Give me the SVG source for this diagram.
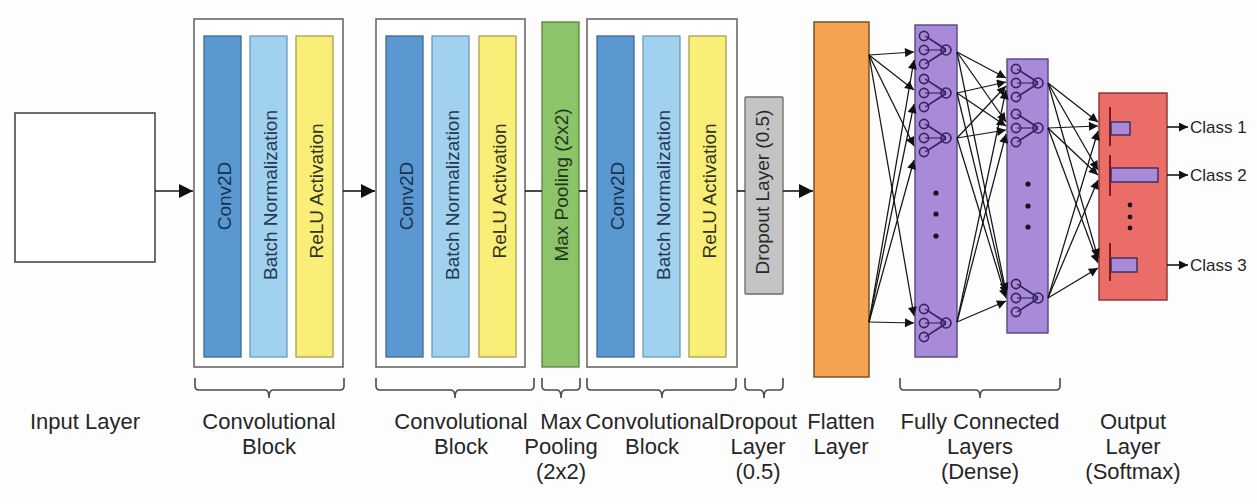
<svg xmlns="http://www.w3.org/2000/svg" width="1257" height="504" viewBox="0 0 1257 504">
  <defs>
    <style>
      .lbl { font-family: "Liberation Sans", Arial, sans-serif; font-size: 22px; fill: #262626; text-anchor: middle; }
      .vt { font-family: "Liberation Sans", Arial, sans-serif; font-size: 19px; text-anchor: middle; }
      .cls { font-family: "Liberation Sans", Arial, sans-serif; font-size: 17px; fill: #262626; }
      .frame { fill: #fff; stroke: #6a6a6a; stroke-width: 1.6; }
      .conv { fill: #5a98d2; stroke: #3c6a96; stroke-width: 1.3; }
      .bn { fill: #a0d1ef; stroke: #6a9aba; stroke-width: 1.3; }
      .relu { fill: #f9ee78; stroke: #a8a04c; stroke-width: 1.3; }
      .pool { fill: #8cc46a; stroke: #56853c; stroke-width: 1.3; }
      .drop { fill: #c4c4c4; stroke: #6a6a6a; stroke-width: 1.3; }
      .flat { fill: #f4a350; stroke: #6e4a20; stroke-width: 1.4; }
      .dense { fill: #a88ad8; stroke: #564680; stroke-width: 1.4; }
      .out { fill: #ea6d68; stroke: #843232; stroke-width: 1.4; }
      .nrn circle { fill: none; stroke: #35245f; stroke-width: 1.6; }
      .nrn line { stroke: #35245f; stroke-width: 1.1; }
      .dot { fill: #161616; }
      .brace { fill: none; stroke: #4a4a4a; stroke-width: 1.6; }
      .flow { stroke: #1a1a1a; stroke-width: 1.6; fill: none; }
      .edge { stroke: #141414; stroke-width: 1.25; fill: none; marker-end: url(#ahs); }
    </style>
    <marker id="ah" viewBox="0 0 10 10" refX="10" refY="5" markerWidth="16" markerHeight="14" markerUnits="userSpaceOnUse" orient="auto">
      <path d="M0,0 L10,5 L0,10 z" fill="#111"/>
    </marker>
    <marker id="ahs" viewBox="0 0 10 10" refX="10" refY="5" markerWidth="12" markerHeight="9" markerUnits="userSpaceOnUse" orient="auto">
      <path d="M0,0 L10,5 L0,10 z" fill="#111"/>
    </marker>
    <!-- neuron icon: three inputs fanning into one unit -->
    <g id="neuron" class="nrn">
      <line x1="-10" y1="-14" x2="11" y2="0"/>
      <line x1="-8" y1="-13" x2="11" y2="-1"/>
      <line x1="-10" y1="0" x2="11" y2="0"/>
      <line x1="-10" y1="14" x2="11" y2="0"/>
      <line x1="-8" y1="13" x2="11" y2="1"/>
      <circle cx="-11" cy="-14" r="4.6"/>
      <circle cx="-11" cy="0" r="4.6"/>
      <circle cx="-11" cy="14" r="4.6"/>
      <circle cx="11" cy="0" r="5"/>
    </g>
  </defs>

  <rect x="0" y="0" width="1257" height="504" fill="#fdfdfd"/>

  <!-- input -->
  <g id="input-layer">
    <rect x="15" y="113" width="140" height="149" fill="#fff" stroke="#4a4a4a" stroke-width="1.6"/>
  </g>

  <!-- convolutional block 1 -->
  <g id="conv-block-1">
    <rect class="frame" x="194" y="19" width="149" height="348"/>
    <rect class="conv" x="204" y="36" width="37" height="321"/>
    <rect class="bn" x="250" y="36" width="37" height="321"/>
    <rect class="relu" x="296" y="36" width="37" height="321"/>
    <text class="vt" fill="#1a3050" transform="translate(231,196) rotate(-90)">Conv2D</text>
    <text class="vt" fill="#253850" transform="translate(277,195) rotate(-90)">Batch Normalization</text>
    <text class="vt" fill="#333322" transform="translate(323,191) rotate(-90)">ReLU Activation</text>
  </g>

  <!-- convolutional block 2 -->
  <g id="conv-block-2">
    <rect class="frame" x="376" y="19" width="149" height="348"/>
    <rect class="conv" x="386" y="36" width="37" height="321"/>
    <rect class="bn" x="432" y="36" width="37" height="321"/>
    <rect class="relu" x="479" y="36" width="37" height="321"/>
    <text class="vt" fill="#1a3050" transform="translate(413,196) rotate(-90)">Conv2D</text>
    <text class="vt" fill="#253850" transform="translate(459,195) rotate(-90)">Batch Normalization</text>
    <text class="vt" fill="#333322" transform="translate(506,191) rotate(-90)">ReLU Activation</text>
  </g>

  <!-- max pooling -->
  <g id="max-pooling">
    <rect class="pool" x="542" y="22" width="37" height="345"/>
    <text class="vt" fill="#24341c" transform="translate(568,185) rotate(-90)">Max Pooling (2x2)</text>
  </g>

  <!-- convolutional block 3 -->
  <g id="conv-block-3">
    <rect class="frame" x="587" y="19" width="150" height="348"/>
    <rect class="conv" x="597" y="36" width="37" height="321"/>
    <rect class="bn" x="643" y="36" width="37" height="321"/>
    <rect class="relu" x="689" y="36" width="37" height="321"/>
    <text class="vt" fill="#1a3050" transform="translate(624,196) rotate(-90)">Conv2D</text>
    <text class="vt" fill="#253850" transform="translate(670,195) rotate(-90)">Batch Normalization</text>
    <text class="vt" fill="#333322" transform="translate(716,191) rotate(-90)">ReLU Activation</text>
  </g>

  <!-- dropout -->
  <g id="dropout">
    <rect class="drop" x="745" y="97" width="38" height="197" rx="1"/>
    <text class="vt" fill="#2a2a2a" transform="translate(769,192) rotate(-90)">Dropout Layer (0.5)</text>
  </g>

  <!-- flatten -->
  <g id="flatten">
    <rect class="flat" x="814" y="22" width="55" height="355"/>
  </g>

  <!-- dense layer 1 -->
  <g id="dense-1">
    <rect class="dense" x="915" y="25" width="42" height="332"/>
    <use href="#neuron" x="935" y="50"/>
    <use href="#neuron" x="935" y="93"/>
    <use href="#neuron" x="935" y="138"/>
    <use href="#neuron" x="935" y="323"/>
    <circle class="dot" cx="936" cy="193" r="2.6"/>
    <circle class="dot" cx="936" cy="214" r="2.6"/>
    <circle class="dot" cx="936" cy="236" r="2.6"/>
  </g>

  <!-- dense layer 2 -->
  <g id="dense-2">
    <rect class="dense" x="1007" y="59" width="41" height="274"/>
    <use href="#neuron" x="1027" y="83"/>
    <use href="#neuron" x="1027" y="128"/>
    <use href="#neuron" x="1027" y="298"/>
    <circle class="dot" cx="1028" cy="184" r="2.6"/>
    <circle class="dot" cx="1028" cy="206" r="2.6"/>
    <circle class="dot" cx="1028" cy="227" r="2.6"/>
  </g>

  <!-- softmax output -->
  <g id="output-layer">
    <rect class="out" x="1099" y="93" width="68" height="207"/>
    <g stroke="#861a1a" stroke-width="2">
      <line x1="1110" y1="107" x2="1110" y2="146"/>
      <line x1="1110" y1="155" x2="1110" y2="196"/>
      <line x1="1110" y1="243" x2="1110" y2="281"/>
    </g>
    <g fill="#a88ad8" stroke="#3a2c58" stroke-width="1.4">
      <rect x="1111" y="122" width="19" height="13"/>
      <rect x="1111" y="168" width="47" height="14"/>
      <rect x="1111" y="258" width="26" height="14"/>
    </g>
    <circle class="dot" cx="1130" cy="205" r="2.4"/>
    <circle class="dot" cx="1130" cy="217" r="2.4"/>
    <circle class="dot" cx="1130" cy="228" r="2.4"/>
  </g>

  <!-- class outputs -->
  <g id="classes">
    <line class="flow" x1="1167" y1="127" x2="1188" y2="127" marker-end="url(#ahs)"/>
    <line class="flow" x1="1167" y1="175" x2="1188" y2="175" marker-end="url(#ahs)"/>
    <line class="flow" x1="1167" y1="265" x2="1188" y2="265" marker-end="url(#ahs)"/>
    <text class="cls" x="1190" y="133">Class 1</text>
    <text class="cls" x="1190" y="181">Class 2</text>
    <text class="cls" x="1190" y="271">Class 3</text>
  </g>

  <!-- connectors -->
  <g id="connectors">
    <line class="flow" x1="155" y1="191" x2="193" y2="191" marker-end="url(#ah)"/>
    <line class="flow" x1="343" y1="191" x2="375" y2="191" marker-end="url(#ah)"/>
    <line class="flow" x1="525" y1="191" x2="542" y2="191"/>
    <line class="flow" x1="579" y1="191" x2="587" y2="191"/>
    <line class="flow" x1="737" y1="191" x2="745" y2="191"/>
    <line class="flow" x1="783" y1="191" x2="813" y2="191" marker-end="url(#ah)"/>

    <!-- flatten to dense 1 -->
    <line class="edge" x1="869" y1="55" x2="914" y2="52"/>
    <line class="edge" x1="869" y1="55" x2="914" y2="90"/>
    <line class="edge" x1="869" y1="55" x2="914" y2="146"/>
    <line class="edge" x1="869" y1="55" x2="914" y2="316"/>
    <line class="edge" x1="869" y1="322" x2="914" y2="60"/>
    <line class="edge" x1="869" y1="322" x2="914" y2="104"/>
    <line class="edge" x1="869" y1="322" x2="914" y2="160"/>
    <line class="edge" x1="869" y1="322" x2="914" y2="323"/>

    <!-- dense 1 to dense 2 -->
    <line class="edge" x1="957" y1="52" x2="1006" y2="78"/>
    <line class="edge" x1="957" y1="52" x2="1006" y2="122"/>
    <line class="edge" x1="957" y1="52" x2="1006" y2="292"/>
    <line class="edge" x1="957" y1="93" x2="1006" y2="82"/>
    <line class="edge" x1="957" y1="93" x2="1006" y2="126"/>
    <line class="edge" x1="957" y1="93" x2="1006" y2="295"/>
    <line class="edge" x1="957" y1="138" x2="1006" y2="86"/>
    <line class="edge" x1="957" y1="138" x2="1006" y2="130"/>
    <line class="edge" x1="957" y1="138" x2="1006" y2="298"/>
    <line class="edge" x1="957" y1="322" x2="1006" y2="90"/>
    <line class="edge" x1="957" y1="322" x2="1006" y2="134"/>
    <line class="edge" x1="957" y1="322" x2="1006" y2="301"/>

    <!-- dense 2 to output -->
    <line class="edge" x1="1048" y1="83" x2="1098" y2="122"/>
    <line class="edge" x1="1048" y1="83" x2="1098" y2="170"/>
    <line class="edge" x1="1048" y1="83" x2="1098" y2="258"/>
    <line class="edge" x1="1048" y1="128" x2="1098" y2="126"/>
    <line class="edge" x1="1048" y1="128" x2="1098" y2="175"/>
    <line class="edge" x1="1048" y1="128" x2="1098" y2="263"/>
    <line class="edge" x1="1048" y1="298" x2="1098" y2="131"/>
    <line class="edge" x1="1048" y1="298" x2="1098" y2="180"/>
    <line class="edge" x1="1048" y1="298" x2="1098" y2="268"/>
  </g>

  <!-- braces under each stage -->
  <g id="braces">
    <path class="brace" d="M195,378 V386 Q195,390 199,390 H265 Q269,390 269,398 Q269,390 273,390 H340 Q344,390 344,386 V378"/>
    <path class="brace" d="M376,378 V386 Q376,390 380,390 H451 Q455,390 455,398 Q455,390 459,390 H530 Q534,390 534,386 V378"/>
    <path class="brace" d="M542,378 V386 Q542,390 546,390 H557 Q561,390 561,398 Q561,390 565,390 H576 Q580,390 580,386 V378"/>
    <path class="brace" d="M587,378 V386 Q587,390 591,390 H658 Q662,390 662,398 Q662,390 666,390 H732 Q736,390 736,386 V378"/>
    <path class="brace" d="M745,378 V386 Q745,390 749,390 H760 Q764,390 764,398 Q764,390 768,390 H779 Q783,390 783,386 V378"/>
    <path class="brace" d="M900,378 V386 Q900,390 904,390 H976 Q980,390 980,398 Q980,390 984,390 H1056 Q1060,390 1060,386 V378"/>
  </g>

  <!-- stage labels -->
  <g id="labels">
    <text class="lbl" x="85" y="429">Input Layer</text>
    <text class="lbl" x="269" y="429">Convolutional</text>
    <text class="lbl" x="269" y="454">Block</text>
    <text class="lbl" x="461" y="429">Convolutional</text>
    <text class="lbl" x="461" y="454">Block</text>
    <text class="lbl" x="561" y="429">Max</text>
    <text class="lbl" x="561" y="454">Pooling</text>
    <text class="lbl" x="561" y="479">(2x2)</text>
    <text class="lbl" x="652" y="429">Convolutional</text>
    <text class="lbl" x="652" y="454">Block</text>
    <text class="lbl" x="758" y="429">Dropout</text>
    <text class="lbl" x="758" y="454">Layer</text>
    <text class="lbl" x="758" y="479">(0.5)</text>
    <text class="lbl" x="841" y="429">Flatten</text>
    <text class="lbl" x="841" y="454">Layer</text>
    <text class="lbl" x="980" y="429">Fully Connected</text>
    <text class="lbl" x="980" y="454">Layers</text>
    <text class="lbl" x="980" y="479">(Dense)</text>
    <text class="lbl" x="1133" y="429">Output</text>
    <text class="lbl" x="1133" y="454">Layer</text>
    <text class="lbl" x="1133" y="479">(Softmax)</text>
  </g>
</svg>
